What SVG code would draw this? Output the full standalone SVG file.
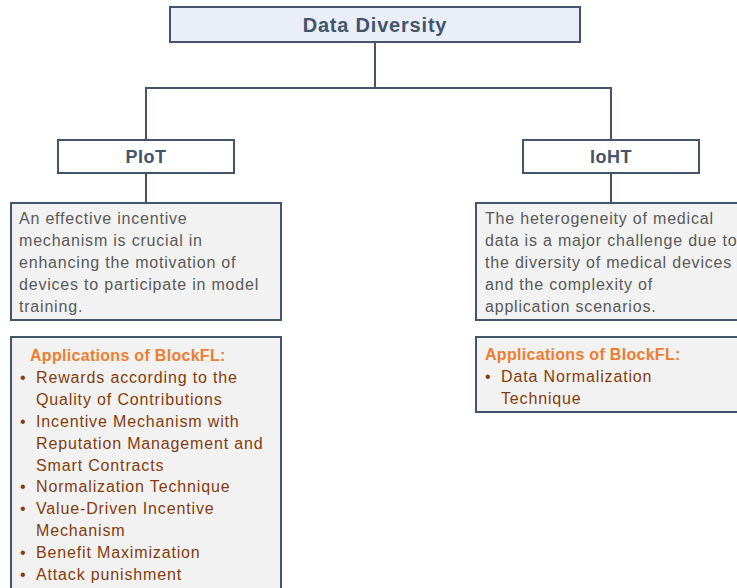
<svg xmlns="http://www.w3.org/2000/svg" width="737" height="588" viewBox="0 0 737 588">
<style>
.box{stroke:#44546A;stroke-width:2}
.t{font-family:"Liberation Sans",Arial,sans-serif}
.title{font-size:20px;font-weight:bold;fill:#44546A;letter-spacing:0.8px}
.head{font-size:18px;font-weight:bold;fill:#44546A;letter-spacing:0.5px}
.desc{font-size:16px;fill:#595959;letter-spacing:0.8px}
.app{font-size:16px;font-weight:bold;fill:#ED7D31;letter-spacing:0.3px}
.item{font-size:16px;fill:#843C0C;letter-spacing:0.85px}
.conn{stroke:#44546A;stroke-width:2;fill:none}
</style>
<rect width="737" height="588" fill="#fff"/>
<g id="connectors">
<polyline class="conn" points="375,42 375,88"/>
<polyline class="conn" points="146,140 146,88 611,88 611,140"/>
<polyline class="conn" points="146,173 146,203"/>
<polyline class="conn" points="611,173 611,203"/>
</g>
<g id="root">
<rect class="box" x="170" y="7" width="410" height="35" fill="#E9EEF8"/>
<text class="t title" x="375" y="32" text-anchor="middle">Data Diversity</text>
</g>
<g id="piot">
<rect class="box" x="58" y="140" width="176" height="33" fill="#fff"/>
<text class="t head" x="146" y="163" text-anchor="middle">PIoT</text>
</g>
<g id="ioht">
<rect class="box" x="523" y="140" width="176" height="33" fill="#fff"/>
<text class="t head" x="611" y="163" text-anchor="middle">IoHT</text>
</g>
<g id="piot-desc">
<rect class="box" x="11" y="203" width="270" height="117" fill="#F2F2F2"/>
<text class="t desc" x="19" y="224">An effective incentive</text>
<text class="t desc" x="19" y="246">mechanism is crucial in</text>
<text class="t desc" x="19" y="268">enhancing the motivation of</text>
<text class="t desc" x="19" y="290">devices to participate in model</text>
<text class="t desc" x="19" y="312">training.</text>
</g>
<g id="ioht-desc">
<rect class="box" x="476" y="203" width="270" height="117" fill="#F2F2F2"/>
<text class="t desc" x="485" y="224">The heterogeneity of medical</text>
<text class="t desc" x="485" y="246">data is a major challenge due to</text>
<text class="t desc" x="485" y="268">the diversity of medical devices</text>
<text class="t desc" x="485" y="290">and the complexity of</text>
<text class="t desc" x="485" y="312">application scenarios.</text>
</g>
<g id="piot-apps">
<rect class="box" x="11" y="337" width="270" height="260" fill="#F2F2F2"/>
<text class="t app" x="30" y="361">Applications of BlockFL:</text>
<g class="t item">
<text x="20" y="383">•</text><text x="36" y="383">Rewards according to the</text>
<text x="36" y="405">Quality of Contributions</text>
<text x="20" y="427">•</text><text x="36" y="427">Incentive Mechanism with</text>
<text x="36" y="449">Reputation Management and</text>
<text x="36" y="471">Smart Contracts</text>
<text x="20" y="492">•</text><text x="36" y="492">Normalization Technique</text>
<text x="20" y="514">•</text><text x="36" y="514">Value-Driven Incentive</text>
<text x="36" y="536">Mechanism</text>
<text x="20" y="558">•</text><text x="36" y="558">Benefit Maximization</text>
<text x="20" y="580">•</text><text x="36" y="580">Attack punishment</text>
</g>
</g>
<g id="ioht-apps">
<rect class="box" x="476" y="337" width="270" height="75" fill="#F2F2F2"/>
<text class="t app" x="485" y="360">Applications of BlockFL:</text>
<g class="t item">
<text x="485" y="382">•</text><text x="501" y="382">Data Normalization</text>
<text x="501" y="404">Technique</text>
</g>
</g>
</svg>
